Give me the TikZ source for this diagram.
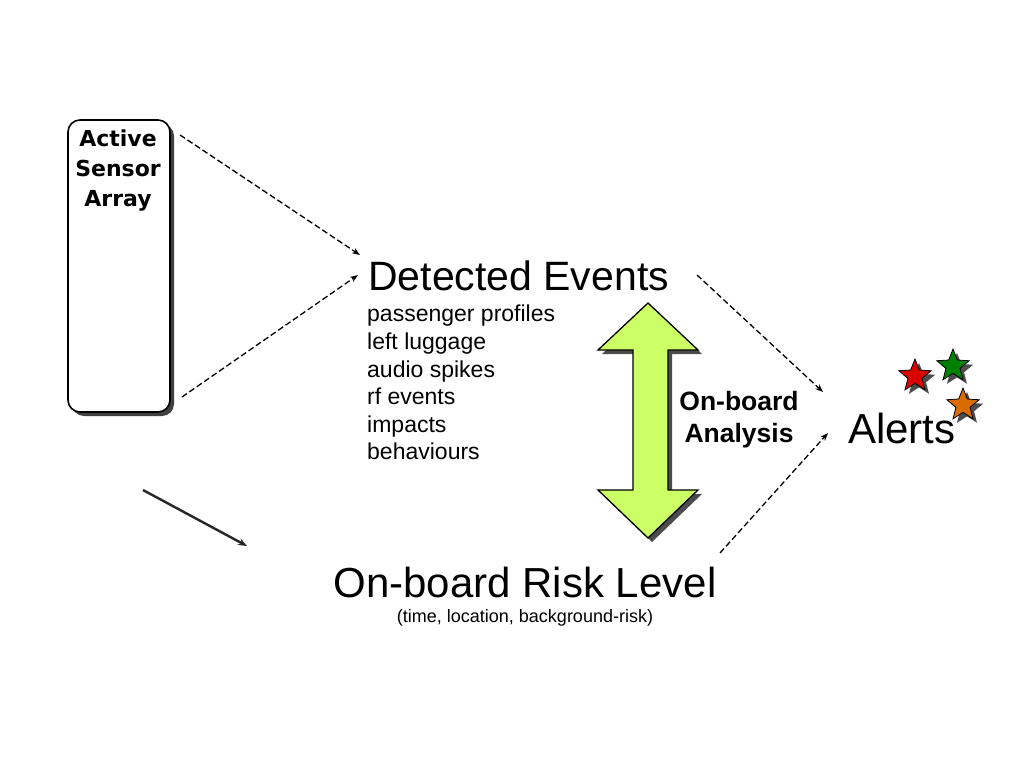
\documentclass[tikz,border=0pt]{standalone}
\usepackage{fontspec}
\setmainfont{Liberation Sans}
\newfontfamily\djvfont{DejaVu Sans}
\usetikzlibrary{shapes.geometric,arrows.meta}
\begin{document}
\begin{tikzpicture}[x=1pt,y=-1pt,
 dsh/.style={-{Stealth[length=8pt,width=6pt]},dash pattern=on 6pt off 3pt,line width=1.3pt},
 st/.style={star,star points=5,star point ratio=2.3,minimum size=34pt,inner sep=0pt,draw=black,line width=0.8pt}]
\useasboundingbox (0,0) rectangle (1024,768);
% sensor box
\fill[black!75,rounded corners=12pt] (72,124) rectangle (174,416);
\node[draw,line width=1.6pt,fill=white,rounded corners=12pt,minimum width=102pt,minimum height=292pt,inner sep=0pt] (sa) at (119,266) {};
\node[align=center,font=\djvfont\fontsize{22}{30}\selectfont,anchor=north] (sat) at (118,126) {\textbf{Active}\\\textbf{Sensor}\\\textbf{Array}};
\coordinate (s1) at (180,135); \coordinate (s2) at (182,397);
\node[anchor=west,font=\fontsize{41}{44}\selectfont,inner sep=0pt] (de) at (368,276) {Detected Events};
\coordinate (d1) at (360,255); \coordinate (d2) at (358,275);
\node[anchor=north west,align=left,font=\fontsize{23}{27.6}\selectfont,inner sep=0pt] (list) at (367,305) {passenger profiles\\left luggage\\audio spikes\\rf events\\impacts\\behaviours};
\draw[dsh] (s1) -- (d1);
\draw[dsh] (s2) -- (d2);
% double arrow
\def\darrow{(648,303) -- (698,350) -- (668,350) -- (668,490) -- (698,490) -- (648,538) -- (598,490) -- (633,490) -- (633,350) -- (598,350) -- cycle}
\fill[black!70,shift={(4pt,-4pt)}] \darrow;
\draw[line width=1.3pt,fill={rgb,255:red,204;green,255;blue,102}] \darrow;
\node[align=center,font=\bfseries\fontsize{26.5}{32}\selectfont] (oa) at (739,420) {On-board\\Analysis};
\node[anchor=west,font=\fontsize{42}{44}\selectfont,inner sep=0pt] (al) at (848,428) {Alerts};
\coordinate (a1) at (823,392); \coordinate (a2) at (828,433);
\coordinate (e1) at (697,275); \coordinate (e2) at (720,553);
\draw[dsh] (e1) -- (a1);
\draw[dsh] (e2) -- (a2);
\foreach \n/\x/\y/\c in {r/915/376/red!85!black, g/953/366/green!50!black, o/963/405/orange!85!black}{
  \node[st,fill=black!70,draw=none] at (\x+4,\y+4) {};
  \node[st,fill=\c] (star\n) at (\x,\y) {};
}
\node[font=\fontsize{42}{44}\selectfont,inner sep=0pt] (rl) at (525,582) {On-board Risk Level};
\node[font=\fontsize{18}{20}\selectfont,inner sep=0pt] (rs) at (525,618) {(time, location, background-risk)};
\coordinate (b1) at (143,490); \coordinate (b2) at (247,546);
\draw[black!85,line width=2.4pt,-{Stealth[length=9pt,width=7pt]}] (b1) -- (b2);
\end{tikzpicture}
\end{document}
